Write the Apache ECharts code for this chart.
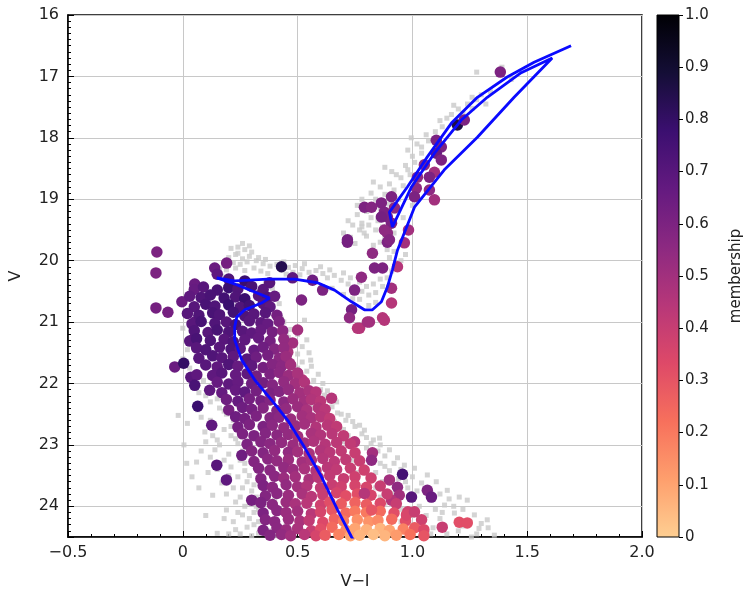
<!DOCTYPE html>
<html>
<head>
<meta charset="utf-8">
<title>CMD membership</title>
<script src="https://cdn.jsdelivr.net/npm/echarts@6/dist/echarts.min.js"></script>
<style>
    html, body { margin: 0; padding: 0; background: #fff; }
    #cmdChart { width: 747px; height: 598px; }
</style>
</head>
<body>
<div id="cmdChart"></div>
<script>
// isochrone (V-I, V), in drawing order
var isoVI = [0.774, 0.735, 0.674, 0.604, 0.530, 0.457, 0.387, 0.313, 0.257, 0.226, 0.226, 0.235, 0.270, 0.343, 0.378,
    0.313, 0.226, 0.148, 0.226, 0.370, 0.487, 0.587, 0.661, 0.735, 0.791, 0.826, 0.865, 0.891, 0.913, 0.935, 1.009,
    1.139, 1.283, 1.443, 1.609, 1.474, 1.326, 1.213, 1.096, 0.996, 0.913, 0.900, 0.978, 1.065, 1.170, 1.283, 1.413,
    1.530, 1.691];
var isoV = [24.75, 24.50, 24.06, 23.52, 23.04, 22.60, 22.27, 21.94, 21.62, 21.29, 21.08, 20.92, 20.80, 20.69, 20.61,
    20.51, 20.38, 20.28, 20.33, 20.30, 20.30, 20.36, 20.48, 20.67, 20.80, 20.80, 20.67, 20.43, 20.15, 19.83, 19.13,
    18.52, 17.99, 17.34, 16.70, 16.94, 17.34, 17.71, 18.25, 18.80, 19.45, 19.21, 18.80, 18.31, 17.76, 17.34, 17.01,
    16.77, 16.50];

// field stars (grey), [V-I, V]
var fieldStars = [
    // turnoff / subgiant
    [0.21, 19.8], [0.24, 19.78], [0.27, 19.82], [0.30, 19.86], [0.20, 19.95], [0.23, 19.9], [0.26, 19.97], [0.29, 19.93],
    [0.22, 20.03], [0.25, 20.06], [0.28, 20.02], [0.32, 20.0], [0.35, 20.05], [0.38, 20.09], [0.41, 20.06], [0.31, 20.12],
    [0.27, 20.16], [0.23, 20.12], [0.19, 20.15], [0.14, 20.2], [0.17, 20.25], [0.34, 20.17], [0.37, 20.21], [0.43, 20.15],
    [0.46, 20.11], [0.49, 20.08], [0.52, 20.13], [0.45, 20.22], [0.48, 20.19], [0.51, 20.23], [0.55, 20.19], [0.58, 20.16],
    [0.61, 20.21], [0.56, 20.27], [0.63, 20.28], [0.66, 20.24], [0.69, 20.32], [0.72, 20.38], [0.75, 20.44], [0.78, 20.5],
    [0.81, 20.56], [0.84, 20.52], [0.87, 20.42], [0.89, 20.28], [0.91, 20.17], [0.93, 20.03], [0.84, 20.68], [0.81, 20.73],
    [0.77, 20.63], [0.65, 20.45], [0.70, 20.55], [0.74, 20.62], [0.36, 20.35], [0.39, 20.45], [0.40, 20.56], [0.42, 20.7],
    [0.41, 20.85], [0.43, 20.95], [0.03, 20.55], [0.08, 20.4], [0.11, 20.5],
    [0.24, 19.88], [0.33, 19.95], [0.36, 19.98], [0.44, 20.02], [0.53, 20.05], [0.60, 20.1], [0.64, 20.15], [0.70, 20.2],
    [0.73, 20.28], [0.77, 20.35], [0.80, 20.42], [0.83, 20.38], [0.86, 20.3], [0.88, 20.15], [0.90, 19.95], [0.92, 19.85],
    [0.18, 20.05], [0.16, 20.12], [0.26, 19.72], [0.29, 19.76],
    // giant branch
    [0.97, 19.9], [0.95, 20.0], [0.83, 19.75], [0.80, 19.6], [0.86, 19.7], [0.88, 19.6], [0.92, 19.55], [0.84, 19.5],
    [0.87, 19.45], [0.78, 19.45], [0.90, 19.4], [0.77, 19.5], [0.79, 19.55], [0.78, 19.39], [0.85, 19.35], [0.72, 19.35],
    [0.82, 19.3], [0.96, 19.3], [0.76, 19.25], [0.88, 19.25], [0.92, 19.2], [0.80, 19.2], [0.86, 19.15], [0.76, 19.1],
    [0.90, 19.08], [1.00, 19.1], [0.78, 19.0], [0.94, 19.0], [0.84, 19.0], [0.82, 18.9], [0.88, 18.92], [0.92, 18.85],
    [0.86, 18.8], [0.96, 18.78], [0.90, 18.75], [0.83, 18.72], [0.95, 18.65], [0.93, 18.6], [0.99, 18.6], [0.91, 18.55],
    [0.98, 18.52], [0.88, 18.48], [0.97, 18.45], [1.01, 18.4], [1.00, 18.3], [1.04, 18.25], [0.98, 18.2], [1.04, 18.15],
    [1.02, 18.1], [1.07, 18.05], [0.995, 18.0], [1.06, 17.95], [1.10, 17.9], [1.13, 17.82], [1.12, 17.72], [1.15, 17.68],
    [1.17, 17.62], [1.22, 17.6], [1.20, 17.53], [1.18, 17.47], [1.24, 17.45], [1.26, 17.52], [1.32, 17.45], [1.28, 17.38],
    [1.26, 17.34], [1.30, 17.3], [1.34, 17.25], [1.43, 17.05], [1.39, 16.9], [1.28, 16.93], [1.39, 16.85], [0.70, 19.55],
    [0.74, 19.42], [0.73, 19.62], [0.81, 19.42], [0.75, 19.72], [0.89, 19.82],
    // main sequence, blue side
    [-0.02, 22.52], [0.02, 22.65], [0.065, 22.43], [0.096, 22.79], [0.14, 23.08], [0.017, 23.3], [0.06, 23.28], [0.04, 23.52],
    [0.13, 23.82], [0.19, 24.06], [0.15, 24.44], [0.23, 23.93], [0.26, 24.14], [0.28, 24.34], [0.33, 24.44], [0.17, 23.62],
    [0.1, 22.95], [0.15, 22.92], [0.21, 23.36], [0.24, 23.52], [0.14, 21.95], [0.17, 22.1], [0.2, 22.25], [0.16, 22.4],
    [0.19, 22.5], [0.22, 22.6], [0.12, 22.3], [0.18, 22.75], [0.21, 22.85], [0.24, 22.98], [0.2, 23.15], [0.25, 23.25],
    [0.27, 23.42], [0.28, 23.6], [0.3, 23.75], [0.32, 24.0], [0.35, 24.25], [0.38, 24.4], [0.22, 24.25], [0.25, 24.45],
    [0.08, 23.1], [0.11, 23.45], [0.005, 23.0], [0.2, 24.45], [0.09, 21.95], [0.07, 22.15], [0.02, 21.45], [0.0, 21.1],
    [0.0, 21.6], [0.03, 21.75], [0.06, 22.0], [0.1, 22.2], [0.08, 22.55], [0.12, 22.6], [0.13, 22.85], [0.16, 23.0],
    [0.18, 23.25], [0.12, 23.2], [0.15, 23.4], [0.2, 23.5], [0.22, 23.7], [0.19, 23.8], [0.25, 23.85], [0.27, 24.0],
    [0.24, 24.1], [0.29, 24.2], [0.31, 24.3], [0.3, 24.48], [0.35, 24.38], [0.4, 24.48], [0.18, 24.2], [0.1, 24.15],
    [0.07, 23.7], [0.26, 23.7], [0.29, 23.95], [0.23, 24.38], [0.31, 24.1],
    [0.12, 21.9], [0.15, 22.25], [0.18, 22.45], [0.21, 22.7], [0.23, 22.9], [0.26, 23.1], [0.27, 23.3], [0.29, 23.5],
    [0.31, 23.65], [0.32, 23.85], [0.33, 24.05], [0.33, 24.25],
    // main sequence, inside
    [0.36, 23.4], [0.4, 23.9], [0.45, 24.3], [0.42, 24.45], [0.55, 24.4], [0.9, 24.38], [0.95, 24.25], [1.0, 24.3],
    [0.85, 24.2], [0.62, 24.0], [0.5, 23.55], [0.45, 23.1], [0.4, 22.7], [0.33, 22.3], [0.3, 22.0],
    // main sequence, red side
    [0.53, 20.97], [0.54, 21.29], [0.557, 21.62], [0.44, 21.0], [0.47, 21.12], [0.46, 21.25], [0.49, 21.38], [0.50, 21.52],
    [0.52, 21.65], [0.54, 21.8], [0.57, 21.95], [0.60, 22.1], [0.617, 22.19], [0.65, 22.38], [0.674, 22.48], [0.71, 22.6],
    [0.75, 22.7], [0.791, 22.76], [0.78, 22.82], [0.857, 22.89], [0.83, 22.92], [0.86, 23.0], [0.9, 23.08], [0.935, 23.21],
    [0.965, 23.33], [1.009, 23.38], [1.065, 23.49], [1.104, 23.6], [1.152, 23.74], [1.204, 23.85], [1.239, 23.9], [1.183, 24.11],
    [1.27, 24.14], [1.326, 24.22], [1.357, 24.47], [1.257, 24.5], [1.29, 24.36], [1.14, 23.98], [1.08, 23.9], [1.12, 24.2],
    [1.2, 24.4], [1.15, 24.45], [1.03, 24.0], [0.98, 23.7], [0.94, 23.55], [0.9, 23.42], [0.86, 23.3], [0.82, 23.2],
    [0.8, 23.05], [0.75, 22.95], [0.72, 22.85], [0.7, 22.75], [0.66, 22.62], [0.63, 22.5], [0.6, 22.35], [0.57, 22.25],
    [0.55, 22.12], [0.52, 21.98], [0.5, 21.85], [0.48, 21.7], [0.46, 21.58],
    [0.5, 21.2], [0.52, 21.4], [0.55, 21.5], [0.56, 21.72], [0.59, 21.85], [0.61, 22.0], [0.63, 22.12], [0.64, 22.28],
    [0.67, 22.3], [0.69, 22.5], [0.72, 22.52], [0.74, 22.62], [0.77, 22.68], [0.8, 22.88], [0.82, 22.98], [0.85, 23.1],
    [0.88, 23.18], [0.92, 23.3], [0.95, 23.4], [0.88, 23.35], [0.96, 23.48], [1.0, 23.52], [1.04, 23.62], [1.02, 23.75],
    [1.07, 23.7], [1.12, 23.8], [1.16, 23.88], [1.1, 24.05], [1.18, 24.0], [1.22, 24.05], [1.25, 24.25], [1.3, 24.28],
    [1.22, 24.32], [1.28, 24.45], [1.33, 24.35], [1.06, 24.15], [1.09, 24.35], [1.13, 24.1], [0.97, 23.6], [0.93, 23.65],
    [0.92, 23.8], [0.87, 23.6], [0.86, 23.85], [0.84, 23.45], [0.78, 23.3], [0.76, 23.1], [0.74, 23.25], [0.7, 22.95],
    [0.45, 21.2], [0.47, 21.5], [0.5, 21.75], [0.53, 22.05], [0.56, 22.35], [0.6, 22.6], [0.64, 22.8], [0.68, 23.0],
    [0.72, 23.2], [0.76, 23.45], [0.8, 23.65], [0.84, 23.7], [0.88, 23.95], [0.95, 24.05], [1.0, 24.15], [1.08, 24.45]
];

// cluster candidates, [V-I, V, membership]
var memberStars = [
    // blue stragglers and bright outliers
    [-0.113, 19.86, 0.6], [-0.117, 20.2, 0.6], [0.052, 20.38, 0.65], [-0.004, 20.67, 0.65], [-0.065, 20.84, 0.62],
    [-0.117, 20.77, 0.62], [0.139, 20.12, 0.65], [0.191, 20.04, 0.62], [0.15, 20.22, 0.68], [0.43, 20.10, 0.84],
    [0.378, 20.36, 0.7], [0.2, 20.3, 0.72], [0.27, 20.33, 0.78],
    // subgiant branch
    [0.478, 20.28, 0.68], [0.565, 20.32, 0.64], [0.609, 20.48, 0.6], [0.517, 20.64, 0.6],
    [0.717, 19.70, 0.62], [0.826, 19.88, 0.55], [0.891, 19.70, 0.6], [0.891, 19.55, 0.55], [0.778, 20.27, 0.55],
    [0.748, 20.48, 0.6], [0.835, 20.12, 0.6], [0.87, 20.12, 0.6], [0.935, 20.10, 0.45], [0.909, 20.45, 0.5],
    [0.909, 20.69, 0.45], [0.735, 20.80, 0.62], [0.726, 20.93, 0.55], [0.77, 21.10, 0.45], [0.813, 21.0, 0.5],
    [0.87, 20.93, 0.45], [0.804, 21.0, 0.5], [0.878, 20.97, 0.45], [0.761, 21.1, 0.45],
    // red giant branch
    [1.383, 16.93, 0.6], [1.196, 17.79, 0.86], [1.226, 17.71, 0.6], [1.104, 18.04, 0.6], [1.126, 18.15, 0.6],
    [1.104, 18.25, 0.65], [1.126, 18.36, 0.6], [1.052, 18.44, 0.55], [1.096, 18.56, 0.5], [1.022, 18.64, 0.55],
    [1.074, 18.64, 0.6], [1.017, 18.82, 0.55], [1.074, 18.85, 0.55], [1.096, 19.01, 0.5], [0.909, 18.96, 0.6],
    [0.865, 19.06, 0.6], [0.791, 19.13, 0.6], [0.822, 19.13, 0.58], [0.878, 19.21, 0.6], [0.922, 19.14, 0.55],
    [0.891, 19.29, 0.6], [0.865, 19.29, 0.62], [0.909, 19.39, 0.6], [0.878, 19.50, 0.55], [0.9, 19.66, 0.58],
    [0.965, 19.71, 0.5], [0.717, 19.66, 0.62], [1.009, 18.96, 0.6], [0.983, 19.5, 0.5],
    // main sequence, outliers
    [-0.035, 21.73, 0.65], [0.004, 21.67, 0.8], [0.035, 21.9, 0.7], [0.061, 21.86, 0.68], [0.052, 22.03, 0.74],
    [0.117, 22.11, 0.68], [0.065, 22.37, 0.78], [0.126, 22.68, 0.68], [0.148, 23.33, 0.7], [0.19, 23.57, 0.68],
    [0.257, 23.17, 0.64], [0.30, 23.9, 0.62], [0.043, 21.29, 0.72], [0.052, 21.0, 0.68],
    [0.5, 21.13, 0.5], [0.478, 21.34, 0.5], [0.457, 21.49, 0.48], [0.465, 21.67, 0.5], [0.5, 21.83, 0.48],
    [0.52, 21.94, 0.45], [0.648, 22.24, 0.45], [0.748, 22.95, 0.45], [0.826, 23.13, 0.5], [0.822, 23.25, 0.55],
    [0.957, 23.48, 0.75], [0.9, 23.57, 0.5], [0.935, 23.69, 0.55], [0.996, 23.85, 0.7], [0.943, 23.82, 0.5],
    [1.065, 23.74, 0.6], [1.083, 23.85, 0.65], [0.909, 23.90, 0.45],
    // main sequence
    [0.05, 20.47, 0.66], [0.09, 20.43, 0.7], [0.15, 20.48, 0.74], [0.2, 20.44, 0.78], [0.24, 20.46, 0.72], [0.3, 20.42, 0.74],
    [0.35, 20.47, 0.7],
    [0.03, 20.58, 0.68], [0.08, 20.6, 0.72], [0.12, 20.56, 0.74], [0.18, 20.61, 0.76], [0.23, 20.59, 0.72], [0.27, 20.62, 0.78],
    [0.33, 20.57, 0.7], [0.37, 20.6, 0.72], [0.40, 20.58, 0.66],
    [0.05, 20.75, 0.7], [0.1, 20.71, 0.74], [0.14, 20.74, 0.72], [0.2, 20.72, 0.78], [0.25, 20.76, 0.72], [0.29, 20.73, 0.76],
    [0.35, 20.7, 0.7], [0.38, 20.75, 0.68],
    [0.02, 20.86, 0.7], [0.07, 20.89, 0.72], [0.13, 20.85, 0.74], [0.16, 20.88, 0.72], [0.22, 20.84, 0.76], [0.27, 20.9, 0.72],
    [0.31, 20.87, 0.7], [0.36, 20.85, 0.7], [0.41, 20.89, 0.62],
    [0.04, 21.03, 0.7], [0.08, 20.99, 0.74], [0.14, 21.02, 0.72], [0.19, 21.0, 0.7], [0.23, 21.04, 0.74], [0.29, 20.98, 0.7],
    [0.34, 21.01, 0.68], [0.37, 21.03, 0.66], [0.42, 20.99, 0.6],
    [0.05, 21.14, 0.72], [0.11, 21.17, 0.7], [0.15, 21.13, 0.74], [0.2, 21.16, 0.72], [0.26, 21.15, 0.7], [0.3, 21.18, 0.68],
    [0.34, 21.13, 0.66], [0.39, 21.16, 0.62], [0.435, 21.14, 0.56],
    [0.03, 21.31, 0.7], [0.06, 21.27, 0.74], [0.12, 21.3, 0.72], [0.18, 21.28, 0.7], [0.22, 21.32, 0.72], [0.27, 21.29, 0.68],
    [0.33, 21.26, 0.66], [0.38, 21.31, 0.62], [0.44, 21.28, 0.54],
    [0.06, 21.42, 0.7], [0.1, 21.45, 0.72], [0.16, 21.41, 0.7], [0.21, 21.44, 0.72], [0.25, 21.43, 0.68], [0.31, 21.46, 0.66],
    [0.35, 21.41, 0.64], [0.4, 21.44, 0.58], [0.44, 21.42, 0.54],
    [0.07, 21.59, 0.7], [0.13, 21.55, 0.72], [0.17, 21.58, 0.7], [0.22, 21.56, 0.68], [0.28, 21.6, 0.7], [0.32, 21.57, 0.64],
    [0.37, 21.54, 0.62], [0.42, 21.59, 0.56], [0.45, 21.56, 0.52],
    [0.1, 21.7, 0.7], [0.15, 21.73, 0.68], [0.2, 21.69, 0.72], [0.24, 21.72, 0.66], [0.3, 21.71, 0.68], [0.35, 21.74, 0.62],
    [0.39, 21.69, 0.58], [0.43, 21.72, 0.56], [0.47, 21.7, 0.5],
    [0.13, 21.87, 0.68], [0.17, 21.83, 0.7], [0.23, 21.86, 0.66], [0.28, 21.84, 0.68], [0.32, 21.88, 0.62], [0.38, 21.85, 0.6],
    [0.42, 21.82, 0.56], [0.46, 21.87, 0.52], [0.5, 21.84, 0.48],
    [0.15, 21.98, 0.66], [0.2, 22.01, 0.68], [0.24, 21.97, 0.66], [0.3, 22.0, 0.64], [0.35, 21.99, 0.62], [0.39, 22.02, 0.58],
    [0.44, 21.97, 0.54], [0.49, 22.0, 0.5], [0.53, 21.98, 0.46],
    [0.17, 22.15, 0.66], [0.23, 22.11, 0.66], [0.27, 22.14, 0.68], [0.32, 22.12, 0.62], [0.38, 22.16, 0.6], [0.42, 22.13, 0.58],
    [0.46, 22.1, 0.54], [0.51, 22.15, 0.5], [0.55, 22.12, 0.48], [0.58, 22.14, 0.45],
    [0.19, 22.26, 0.64], [0.24, 22.29, 0.66], [0.29, 22.25, 0.62], [0.34, 22.28, 0.62], [0.38, 22.27, 0.58], [0.44, 22.3, 0.56],
    [0.48, 22.25, 0.52], [0.53, 22.28, 0.5], [0.56, 22.26, 0.46], [0.6, 22.29, 0.44],
    [0.2, 22.43, 0.62], [0.26, 22.39, 0.64], [0.3, 22.42, 0.62], [0.35, 22.4, 0.58], [0.41, 22.44, 0.58], [0.45, 22.41, 0.54],
    [0.5, 22.38, 0.52], [0.54, 22.43, 0.48], [0.59, 22.4, 0.46], [0.62, 22.42, 0.44],
    [0.23, 22.54, 0.64], [0.27, 22.57, 0.62], [0.32, 22.53, 0.6], [0.38, 22.56, 0.58], [0.42, 22.55, 0.56], [0.47, 22.58, 0.52],
    [0.52, 22.53, 0.5], [0.56, 22.56, 0.48], [0.6, 22.54, 0.45], [0.64, 22.57, 0.42],
    [0.24, 22.71, 0.62], [0.29, 22.67, 0.6], [0.35, 22.7, 0.6], [0.39, 22.68, 0.56], [0.44, 22.72, 0.54], [0.49, 22.69, 0.52],
    [0.53, 22.66, 0.5], [0.58, 22.71, 0.46], [0.63, 22.68, 0.44], [0.67, 22.7, 0.42],
    [0.26, 22.82, 0.6], [0.31, 22.85, 0.6], [0.36, 22.81, 0.58], [0.41, 22.84, 0.56], [0.46, 22.83, 0.54], [0.5, 22.86, 0.5],
    [0.56, 22.81, 0.48], [0.6, 22.84, 0.46], [0.65, 22.82, 0.44], [0.7, 22.85, 0.42],
    [0.28, 22.99, 0.6], [0.34, 22.95, 0.58], [0.38, 22.98, 0.56], [0.43, 22.96, 0.54], [0.48, 23.0, 0.52], [0.53, 22.97, 0.5],
    [0.57, 22.94, 0.47], [0.62, 22.99, 0.45], [0.67, 22.96, 0.43], [0.73, 22.98, 0.42],
    [0.3, 23.1, 0.58], [0.35, 23.13, 0.58], [0.4, 23.09, 0.54], [0.46, 23.12, 0.54], [0.5, 23.11, 0.5], [0.55, 23.14, 0.48],
    [0.6, 23.09, 0.46], [0.64, 23.12, 0.44], [0.69, 23.1, 0.42], [0.75, 23.13, 0.4],
    [0.31, 23.27, 0.58], [0.37, 23.23, 0.56], [0.41, 23.26, 0.54], [0.46, 23.24, 0.52], [0.52, 23.28, 0.5], [0.56, 23.25, 0.48],
    [0.61, 23.22, 0.45], [0.66, 23.27, 0.43], [0.71, 23.24, 0.42], [0.77, 23.26, 0.4],
    [0.33, 23.38, 0.58], [0.38, 23.41, 0.56], [0.44, 23.37, 0.54], [0.48, 23.4, 0.52], [0.53, 23.39, 0.48], [0.58, 23.42, 0.46],
    [0.63, 23.37, 0.44], [0.67, 23.4, 0.42], [0.73, 23.38, 0.4], [0.79, 23.41, 0.38],
    [0.34, 23.55, 0.58], [0.4, 23.51, 0.56], [0.44, 23.54, 0.52], [0.49, 23.52, 0.5], [0.55, 23.56, 0.48], [0.59, 23.53, 0.44],
    [0.64, 23.5, 0.42], [0.7, 23.55, 0.4], [0.75, 23.52, 0.38], [0.82, 23.54, 0.38],
    [0.35, 23.66, 0.6], [0.39, 23.69, 0.56], [0.45, 23.65, 0.54], [0.5, 23.68, 0.5], [0.54, 23.67, 0.46], [0.6, 23.7, 0.42],
    [0.65, 23.65, 0.4], [0.69, 23.68, 0.38], [0.75, 23.66, 0.36], [0.8, 23.69, 0.36], [0.86, 23.67, 0.4],
    [0.36, 23.83, 0.58], [0.41, 23.79, 0.56], [0.46, 23.82, 0.52], [0.52, 23.8, 0.48], [0.56, 23.84, 0.44], [0.61, 23.81, 0.4],
    [0.67, 23.78, 0.36], [0.71, 23.83, 0.32], [0.76, 23.8, 0.32], [0.82, 23.82, 0.36], [0.89, 23.8, 0.4],
    [0.34, 23.94, 0.6], [0.39, 23.97, 0.56], [0.45, 23.93, 0.52], [0.49, 23.96, 0.48], [0.54, 23.95, 0.44], [0.6, 23.98, 0.38],
    [0.64, 23.93, 0.32], [0.69, 23.96, 0.28], [0.75, 23.94, 0.26], [0.8, 23.97, 0.28], [0.86, 23.95, 0.34], [0.93, 23.96, 0.4],
    [0.35, 24.11, 0.6], [0.41, 24.07, 0.56], [0.45, 24.1, 0.52], [0.5, 24.08, 0.5], [0.56, 24.12, 0.44], [0.6, 24.09, 0.36],
    [0.65, 24.06, 0.3], [0.71, 24.11, 0.24], [0.75, 24.08, 0.2], [0.8, 24.1, 0.2], [0.86, 24.08, 0.24], [0.92, 24.11, 0.32],
    [0.98, 24.09, 0.38],
    [0.36, 24.22, 0.58], [0.4, 24.25, 0.56], [0.46, 24.21, 0.52], [0.51, 24.24, 0.48], [0.55, 24.23, 0.42], [0.61, 24.26, 0.34],
    [0.66, 24.21, 0.26], [0.7, 24.24, 0.2], [0.76, 24.22, 0.15], [0.81, 24.25, 0.14], [0.85, 24.23, 0.16], [0.91, 24.21, 0.24],
    [0.97, 24.24, 0.32], [1.04, 24.22, 0.38],
    [0.35, 24.39, 0.6], [0.41, 24.35, 0.56], [0.45, 24.38, 0.52], [0.5, 24.36, 0.48], [0.56, 24.4, 0.4], [0.6, 24.37, 0.32],
    [0.65, 24.34, 0.24], [0.71, 24.39, 0.16], [0.75, 24.36, 0.1], [0.8, 24.38, 0.07], [0.86, 24.36, 0.06], [0.9, 24.39, 0.1],
    [0.96, 24.37, 0.18], [1.01, 24.35, 0.28], [1.05, 24.38, 0.34],
    [0.38, 24.47, 0.58], [0.43, 24.46, 0.54], [0.47, 24.48, 0.5], [0.53, 24.46, 0.44], [0.58, 24.48, 0.36], [0.62, 24.47, 0.28],
    [0.68, 24.46, 0.18], [0.73, 24.48, 0.1], [0.77, 24.47, 0.06], [0.83, 24.46, 0.04], [0.88, 24.48, 0.06], [0.93, 24.47, 0.12],
    [0.99, 24.46, 0.22], [1.05, 24.48, 0.3],
    // faint red outliers
    [1.13, 24.34, 0.4], [1.204, 24.26, 0.32], [1.239, 24.27, 0.32], [0.974, 24.14, 0.35], [1.009, 24.09, 0.4],
    [0.791, 23.79, 0.45], [0.822, 24.06, 0.3]
];

var membershipTicks = [0, 0.1, 0.2, 0.3, 0.4, 0.5, 0.6, 0.7, 0.8, 0.9, 1.0];

// magma, reversed, cut at 0.9
var palette = ['#fecf92', '#fe9f6d', '#f7705c', '#de4968', '#b73779', '#8c2981', '#641a80', '#3b0f70', '#140e36', '#000004'];
var fontFamily = '"DejaVu Sans", sans-serif';

var isoLine = [];
for (var i = 0; i < isoVI.length; i++) {
    isoLine.push([isoVI[i], isoV[i]]);
}

var barStops = [];
for (var k = 0; k < palette.length; k++) {
    barStops.push({offset: k / (palette.length - 1), color: palette[k]});
}

var myChart = echarts.init(document.getElementById('cmdChart'), null, {renderer: 'canvas'});

var option = {
    animation: false,
    backgroundColor: '#fff',
    grid: [
        {left: 63, top: 15, width: 579, height: 522, show: true, borderColor: '#000', borderWidth: 1.5, backgroundColor: 'transparent'},
        {left: 657, top: 15, width: 22, height: 522, show: false}
    ],
    visualMap: {
        show: false,
        type: 'continuous',
        min: 0,
        max: 1,
        dimension: 2,
        seriesIndex: 1,
        inRange: {color: palette}
    },
    xAxis: [
        {
            gridIndex: 0,
            type: 'value',
            min: -0.5,
            max: 2.0,
            interval: 0.5,
            name: 'V\u2212I',
            nameLocation: 'middle',
            nameGap: 37,
            nameTextStyle: {fontFamily: fontFamily, fontSize: 16, color: '#222'},
            axisLine: {onZero: false, lineStyle: {color: '#000', width: 1.5}},
            axisTick: {inside: true, length: 6, lineStyle: {color: '#000'}},
            minorTick: {show: true, splitNumber: 5, length: 3, lineStyle: {color: '#000'}},
            axisLabel: {
                fontFamily: fontFamily, fontSize: 16, color: '#222', margin: 8,
                formatter: function (v) {
                    if (v === 0) return '0';
                    return (v < 0 ? '\u2212' : '') + Math.abs(v).toFixed(1);
                }
            },
            splitLine: {show: true, lineStyle: {color: '#c8c8c8', width: 1}}
        },
        {gridIndex: 1, type: 'value', min: 0, max: 1, show: false}
    ],
    yAxis: [
        {
            gridIndex: 0,
            type: 'value',
            position: 'left',
            inverse: true,
            min: 16,
            max: 24.5,
            interval: 1,
            name: 'V',
            nameLocation: 'middle',
            nameGap: 44,
            nameRotate: 90,
            nameTextStyle: {fontFamily: fontFamily, fontSize: 16, color: '#222'},
            axisLine: {onZero: false, lineStyle: {color: '#000', width: 1.5}},
            axisTick: {inside: true, length: 6, lineStyle: {color: '#000'}},
            axisLabel: {
                fontFamily: fontFamily, fontSize: 16, color: '#222', margin: 9,
                formatter: function (v) {
                    return v % 1 === 0 ? String(v) : '';
                }
            },
            splitLine: {show: true, lineStyle: {color: '#c8c8c8', width: 1}}
        },
        {
            // minor ticks every 0.1 mag
            gridIndex: 0,
            type: 'value',
            position: 'left',
            inverse: true,
            min: 16,
            max: 24.5,
            interval: 0.1,
            axisLine: {show: false, onZero: false},
            axisTick: {inside: true, length: 3, lineStyle: {color: '#000'}},
            axisLabel: {show: false},
            splitLine: {show: false}
        },
        {
            gridIndex: 1,
            type: 'value',
            position: 'right',
            min: 0,
            max: 1,
            interval: 0.1,
            name: 'membership',
            nameLocation: 'middle',
            nameGap: 50,
            nameRotate: 90,
            nameTextStyle: {fontFamily: fontFamily, fontSize: 15, color: '#222'},
            axisLine: {show: false, onZero: false},
            axisTick: {inside: false, length: 4, lineStyle: {color: '#000'}},
            axisLabel: {
                fontFamily: fontFamily, fontSize: 15, color: '#222', margin: 6,
                formatter: function (v) {
                    return v === 0 ? '0' : v.toFixed(1);
                }
            },
            splitLine: {show: false}
        }
    ],
    graphic: [{
        type: 'rect',
        shape: {x: 657, y: 15, width: 22, height: 522},
        style: {
            fill: new echarts.graphic.LinearGradient(0, 1, 0, 0, barStops),
            stroke: '#000',
            lineWidth: 1
        },
        z: 10,
        silent: true
    }],
    series: [
        {
            name: 'field',
            type: 'scatter',
            xAxisIndex: 0,
            yAxisIndex: 0,
            data: fieldStars,
            symbol: 'rect',
            symbolSize: 5,
            itemStyle: {color: '#c9c9c9'},
            silent: true,
            z: 2
        },
        {
            name: 'members',
            type: 'scatter',
            xAxisIndex: 0,
            yAxisIndex: 0,
            data: memberStars,
            symbol: 'circle',
            symbolSize: 11.5,
            itemStyle: {opacity: 1},
            silent: true,
            z: 3
        },
        {
            name: 'isochrone',
            type: 'line',
            xAxisIndex: 0,
            yAxisIndex: 0,
            data: isoLine,
            showSymbol: false,
            smooth: false,
            clip: true,
            lineStyle: {color: '#0a0aff', width: 2.8},
            silent: true,
            z: 4
        }
    ]
};

myChart.setOption(option);
</script>
</body>
</html>
